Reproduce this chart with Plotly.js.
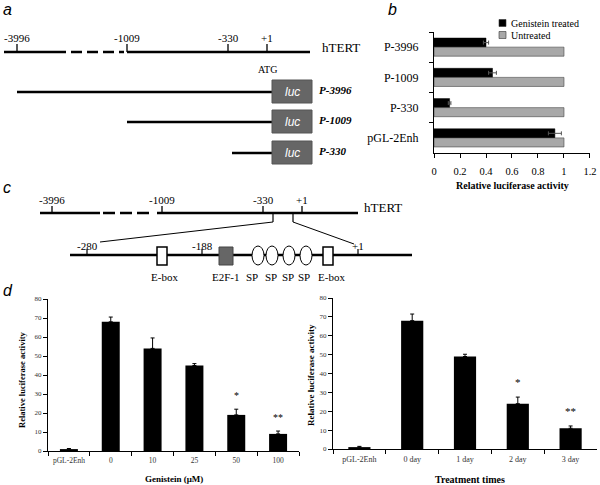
<!DOCTYPE html>
<html>
<head>
<meta charset="utf-8">
<script src="https://cdn.plot.ly/plotly-3.0.1.min.js"></script>
<style>
  html, body { margin: 0; padding: 0; background: #fff; }
  #fig { width: 600px; height: 485px; }
</style>
</head>
<body>
<div id="fig"></div>
<script>
// ---- panel b data ----
const constructs = ['P-3996', 'P-1009', 'P-330', 'pGL-2Enh'];
const treatedVals = [0.40, 0.45, 0.12, 0.93];
const treatedErr = [0.02, 0.03, 0.01, 0.05];
const untreatedVals = [1, 1, 1, 1];
const seriesNames = ['Genistein treated', 'Untreated'];
const seriesColors = ['#000', '#a8a8a8'];
const activityTicks = [0, 0.2, 0.4, 0.6, 0.8, 1, 1.2];

// ---- panel d data ----
const doseLabels = ['pGL-2Enh', '0', '10', '25', '50', '100'];
const doseVals = [1, 68, 54, 45, 19, 9];
const doseErr = [0.3, 2.5, 5.5, 1, 3, 1.5];
const doseStars = ['', '', '', '', '*', '**'];

const timeLabels = ['pGL-2Enh', '0 day', '1 day', '2 day', '3 day'];
const timeVals = [1, 68, 49, 24, 11];
const timeErr = [0.4, 3.5, 1.2, 3.5, 1.2];
const timeStars = ['', '', '', '*', '**'];

// ---- schematic (a, c) positions, in page units ----
const mapLabels = ['-3996', '-1009', '-330', '+1'];
const mapTickA = [17, 127, 228, 267];
const mapTickC = [52, 162, 263, 302];
const lucNames = ['P-3996', 'P-1009', 'P-330'];
const lucStart = [17, 127, 232];
const lucRowY = [92, 122, 153];
const zoomLabels = ['-280', '-188', '+1'];
const zoomTickX = [87, 202, 358];
const eboxX = [162, 328];
const spX = [258, 272, 289, 306];
const siteLabels = ['E-box', 'E2F-1', 'SP', 'SP', 'SP', 'SP', 'E-box'];
const siteLabelX = [164, 226, 252, 271, 288, 304, 331];

const serif = 'Liberation Serif, Times New Roman, serif';
const sans = 'Liberation Sans, Arial, sans-serif';

const shapes = [];
const annotations = [];
const line = (x0, y0, x1, y1, w, dash) => shapes.push({
    type: 'line', xref: 'x4', yref: 'y4', x0, y0, x1, y1,
    line: { color: '#000', width: w, dash: dash || 'solid' }
});
const txt = (x, y, text, opts) => annotations.push(Object.assign({
    xref: 'x4', yref: 'y4', x, y, text, showarrow: false,
    font: { family: serif, size: 11, color: '#000' }
}, opts || {}));

// panel a: map line
line(4, 52, 66, 52, 2.5);
line(71, 52, 124, 52, 2.5, '11px,5px');
line(127, 52, 310, 52, 2.5);
mapTickA.forEach((x, i) => {
    line(x, 44, x, 52, 1.3);
    txt(x, 38, mapLabels[i]);
});
txt(320, 47, 'hTERT', { xanchor: 'left', font: { family: serif, size: 13, color: '#000' } });
txt(267, 69, 'ATG', { font: { family: serif, size: 10, color: '#000' } });
lucRowY.forEach((y, i) => {
    line(lucStart[i], y, 272, y, 2.5);
    shapes.push({ type: 'rect', xref: 'x4', yref: 'y4', x0: 272, x1: 312, y0: y - 12, y1: y + 11,
        fillcolor: '#666', line: { color: '#555', width: 1 } });
    txt(292, y, '<i>luc</i>', { font: { family: sans, size: 12, color: '#fff' } });
    txt(317, y - 2, '<b><i>' + lucNames[i] + '</i></b>', { xanchor: 'left' });
});

// panel b legend (drawn by hand to match the tight spacing)
seriesNames.forEach((n, i) => {
    const y = 23 + i * 12;
    shapes.push({ type: 'rect', xref: 'x4', yref: 'y4', x0: 499, x1: 506, y0: y - 3.5, y1: y + 3.5,
        fillcolor: seriesColors[i], line: { color: '#333', width: 0.6 } });
    txt(509, y, n, { xanchor: 'left', font: { family: serif, size: 10, color: '#000' } });
});

// panel c: map line and zoomed promoter
line(40, 213, 100, 213, 2.5);
line(103, 213, 154, 213, 2.5, '12px,5px');
line(157, 213, 358, 213, 2.5);
mapTickC.forEach((x, i) => {
    line(x, 206, x, 213, 1.3);
    txt(x, 200, mapLabels[i]);
});
txt(362, 207, 'hTERT', { xanchor: 'left', font: { family: serif, size: 13, color: '#000' } });
line(273, 213, 273, 222, 1.2);
line(293, 213, 293, 222, 1.2);
line(273, 222, 100, 242, 1);
line(293, 222, 354, 244, 1);
line(70, 255, 412, 255, 2.5);
zoomTickX.forEach((x, i) => {
    line(x, 249, x, 255, 1.2);
    txt(x, 246, zoomLabels[i]);
});
eboxX.forEach(x => shapes.push({ type: 'rect', xref: 'x4', yref: 'y4', x0: x - 5, x1: x + 5,
    y0: 247, y1: 265, fillcolor: '#fff', line: { color: '#000', width: 1.5 } }));
shapes.push({ type: 'rect', xref: 'x4', yref: 'y4', x0: 219, x1: 233, y0: 247, y1: 265,
    fillcolor: '#666', line: { color: '#444', width: 1 } });
spX.forEach(x => shapes.push({ type: 'circle', xref: 'x4', yref: 'y4', x0: x - 6, x1: x + 6,
    y0: 246, y1: 265, fillcolor: '#fff', line: { color: '#000', width: 1 } }));
siteLabels.forEach((s, i) => txt(siteLabelX[i], 277, s));

// panel letters
const letter = (x, y, t) => txt(x, y, '<i>' + t + '</i>', { xanchor: 'left', font: { family: sans, size: 16, color: '#000' } });
letter(1, 9, 'a');
letter(386, 9, 'b');
letter(1, 187, 'c');
letter(1, 290, 'd');

// axis titles
txt(512, 185, '<b>Relative luciferase activity</b>', { font: { family: serif, size: 10, color: '#000' } });
txt(22, 380, '<b>Relative luciferase activity</b>', { textangle: -90, font: { family: serif, size: 8.5, color: '#000' } });
txt(174, 479, '<b>Genistein (μM)</b>', { font: { family: serif, size: 9, color: '#000' } });
txt(311, 375, '<b>Relative luciferase activity</b>', { textangle: -90, font: { family: serif, size: 9, color: '#000' } });
txt(470, 479, '<b>Treatment times</b>', { font: { family: serif, size: 10, color: '#000' } });

// significance stars
doseStars.forEach((s, i) => {
    if (s) annotations.push({ xref: 'x3', yref: 'y3', x: i, y: doseVals[i] + doseErr[i] + 7,
        text: s, showarrow: false, font: { family: serif, size: 10, color: '#000' } });
});
timeStars.forEach((s, i) => {
    if (s) annotations.push({ xref: 'x5', yref: 'y5', x: i, y: timeVals[i] + timeErr[i] + 8,
        text: s, showarrow: false, font: { family: serif, size: 11, color: '#000' } });
});

const errStyle = (arr) => ({ type: 'data', array: arr, arrayminus: arr.map(() => 0),
    color: '#000', thickness: 1, width: 2 });

const traces = [
    { type: 'bar', orientation: 'h', name: seriesNames[0], y: constructs, x: treatedVals,
      xaxis: 'x2', yaxis: 'y2', marker: { color: seriesColors[0], line: { color: '#000', width: 0.5 } },
      error_x: { type: 'data', array: treatedErr, color: '#555', thickness: 1, width: 2 } },
    { type: 'bar', orientation: 'h', name: seriesNames[1], y: constructs, x: untreatedVals,
      xaxis: 'x2', yaxis: 'y2', marker: { color: seriesColors[1], line: { color: '#444', width: 0.6 } } },
    { type: 'bar', x: doseLabels, y: doseVals, width: 0.43, xaxis: 'x3', yaxis: 'y3',
      marker: { color: '#000' }, error_y: errStyle(doseErr) },
    { type: 'bar', x: timeLabels, y: timeVals, width: 0.42, xaxis: 'x5', yaxis: 'y5',
      marker: { color: '#000' }, error_y: errStyle(timeErr) },
    { type: 'scatter', x: [0], y: [0], xaxis: 'x4', yaxis: 'y4', mode: 'markers',
      marker: { opacity: 0 }, hoverinfo: 'skip' }
];

const smallAxis = {
    showline: true, linecolor: '#000', linewidth: 1, showgrid: false, zeroline: false,
    ticks: 'outside', ticklen: 4, tickcolor: '#000', fixedrange: true
};

const layout = {
    width: 600, height: 485,
    margin: { l: 0, r: 0, t: 0, b: 0 },
    paper_bgcolor: '#fff', plot_bgcolor: 'rgba(0,0,0,0)',
    barmode: 'group', bargap: 0.4, bargroupgap: 0,
    showlegend: false,
    font: { family: serif, color: '#000' },
    xaxis2: Object.assign({}, smallAxis, { domain: [434 / 600, 590 / 600], anchor: 'y2',
        range: [0, 1.2001], tickmode: 'array', tickvals: activityTicks,
        ticktext: activityTicks.map(String), ticklabelstandoff: 4, ticklabeloverflow: 'allow',
        tickfont: { family: serif, size: 10.5, color: '#000' } }),
    yaxis2: Object.assign({}, smallAxis, { domain: [1 - 153 / 485, 1 - 32 / 485], anchor: 'x2',
        autorange: 'reversed', tickson: 'boundaries', ticklabelstandoff: 12,
        tickfont: { family: serif, size: 12, color: '#000' } }),
    xaxis3: Object.assign({}, smallAxis, { type: 'category', domain: [48 / 600, 299 / 600], anchor: 'y3',
        tickson: 'boundaries', tickangle: 0, ticklabelstandoff: 2,
        tickfont: { family: serif, size: 7.5, color: '#333' } }),
    yaxis3: Object.assign({}, smallAxis, { domain: [1 - 451 / 485, 1 - 299 / 485], anchor: 'x3',
        range: [0, 80], dtick: 10, tickfont: { family: serif, size: 7, color: '#333' } }),
    xaxis5: Object.assign({}, smallAxis, { type: 'category', domain: [333 / 600, 597 / 600], anchor: 'y5',
        tickson: 'boundaries', tickangle: 0, ticklabelstandoff: 2,
        tickfont: { family: serif, size: 8, color: '#333' } }),
    yaxis5: Object.assign({}, smallAxis, { domain: [1 - 449 / 485, 1 - 298 / 485], anchor: 'x5',
        range: [0, 80], dtick: 10, tickfont: { family: serif, size: 7, color: '#333' } }),
    xaxis4: { domain: [0, 1], range: [0, 600], visible: false, fixedrange: true, anchor: 'y4' },
    yaxis4: { domain: [0, 1], range: [485, 0], visible: false, fixedrange: true, anchor: 'x4' },
    shapes: shapes,
    annotations: annotations
};

Plotly.newPlot('fig', traces, layout, { staticPlot: true, displayModeBar: false });
</script>
</body>
</html>
